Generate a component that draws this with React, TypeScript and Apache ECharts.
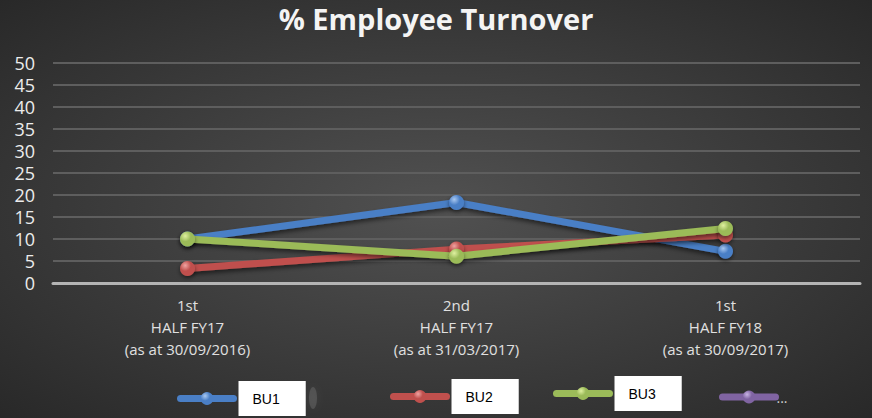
import React, { useEffect, useRef } from "react";
import * as echarts from "echarts";

const categories = [
  "1st\nHALF FY17\n(as at 30/09/2016)",
  "2nd\nHALF FY17\n(as at 31/03/2017)",
  "1st\nHALF FY18\n(as at 30/09/2017)",
];
const seriesNames = ["BU1", "BU2", "BU3", "..."];
const bu1 = [10, 18.3, 7.2];
const bu2 = [3.3, 7.7, 10.9];
const bu3 = [10, 6.1, 12.4];
const bu4: number[] = [];
const yTicks = { min: 0, max: 50, interval: 5 };

const colors = ["#4a7fc6", "#c0504d", "#9bbb59", "#8064a2"];
const lightColors = ["#a9c8f0", "#f0a4a2", "#dff0a0", "#c8b4e4"];

const legendLefts = [177, 390, 553, 719];
const legendTops = [381, 379, 376, 390];

export default function App() {
  const ref = useRef<HTMLDivElement>(null);
  useEffect(() => {
    document.body.style.margin = "0";
    const chart = echarts.init(ref.current!, undefined, { renderer: "svg" });
    const datas = [bu1, bu2, bu3, bu4];
    const sphere = (i: number) =>
      new echarts.graphic.RadialGradient(0.35, 0.3, 0.75, [
        { offset: 0, color: lightColors[i] },
        { offset: 0.5, color: colors[i] },
        { offset: 1, color: colors[i] },
      ]);
    const series = seriesNames.map((name, i) => ({
      name,
      type: "line",
      data: datas[i],
      symbol: "circle",
      symbolSize: 15,
      z: 2 + (i === 2 ? 1 : 0),
      lineStyle: {
        color: colors[i],
        width: 7,
        shadowColor: "rgba(0,0,0,0.5)",
        shadowBlur: 4,
        shadowOffsetY: 3,
      },
      itemStyle: {
        color: sphere(i),
        borderWidth: 0,
        shadowColor: "rgba(0,0,0,0.5)",
        shadowBlur: 4,
        shadowOffsetY: 2,
      },
    }));
    const legends = seriesNames.map((name, i) => {
      const isBox = i < 3;
      return {
        show: true,
        left: legendLefts[i],
        top: legendTops[i],
        data: [name],
        itemWidth: 53,
        itemHeight: 16,
        padding: 0,
        selectedMode: false,
        lineStyle: { width: 7, color: colors[i], cap: "round" },
        itemStyle: { color: sphere(i) },
        textStyle: isBox
          ? {
              color: "#000",
              fontFamily: "Liberation Sans",
              fontSize: 14,
              backgroundColor: "#fff",
              padding: [8, 26, 8, 14],
              height: 19,
              lineHeight: 19,
            }
          : {
              color: "#d0d0d0",
              fontFamily: "Open Sans",
              fontSize: 14,
              padding: [8, 0, 0, -4],
            },
      };
    });
    chart.setOption({
      animation: false,
      backgroundColor: new echarts.graphic.RadialGradient(0.5, 0.5, 0.75, [
        { offset: 0, color: "#515151" },
        { offset: 1, color: "#262626" },
      ]),
      title: {
        text: "% Employee Turnover",
        left: "center",
        top: -1,
        textStyle: {
          color: "#f4f4f4",
          fontFamily: "Open Sans",
          fontWeight: "bold",
          fontSize: 29,
        },
      },
      grid: { left: 53, right: 12, top: 63, bottom: 135, containLabel: false },
      legend: legends,
      graphic: [
        {
          type: "ellipse",
          shape: { cx: 313, cy: 398, rx: 4, ry: 11 },
          style: {
            fill: "rgba(170,170,170,0.22)",
            shadowBlur: 8,
            shadowColor: "rgba(170,170,170,0.4)",
          },
        },
      ],
      xAxis: {
        type: "category",
        data: categories,
        boundaryGap: true,
        axisLine: { lineStyle: { color: "#b4b4b4", width: 3 } },
        axisTick: { show: false },
        axisLabel: {
          color: "#e0e0e0",
          fontFamily: "Open Sans",
          fontSize: 15,
          lineHeight: 22,
          margin: 11,
        },
      },
      yAxis: {
        type: "value",
        min: yTicks.min,
        max: yTicks.max,
        interval: yTicks.interval,
        axisLine: { show: false },
        axisTick: { show: false },
        splitLine: { lineStyle: { color: "#5e5e5e", width: 2 } },
        axisLabel: {
          color: "#ececec",
          fontFamily: "Open Sans",
          fontSize: 18,
          margin: 18,
        },
      },
      series,
    });
    return () => chart.dispose();
  }, []);
  return <div ref={ref} style={{ width: 872, height: 418 }} />;
}
